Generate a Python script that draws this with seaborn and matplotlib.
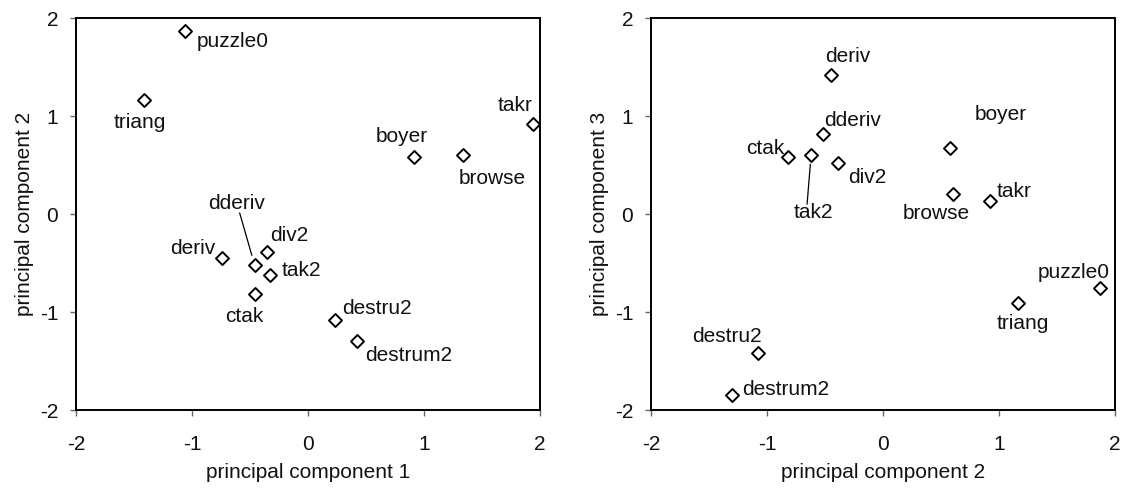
import matplotlib
matplotlib.use("Agg")
import matplotlib.pyplot as plt
import seaborn as sns
import pandas as pd

# ---- data ----
programs = ["puzzle0", "triang", "takr", "boyer", "browse", "deriv",
            "dderiv", "div2", "tak2", "ctak", "destru2", "destrum2"]
pc1 = [-1.06, -1.41, 1.94, 0.91, 1.34, -0.74, -0.46, -0.35, -0.33, -0.46, 0.23, 0.42]
pc2 = [1.87, 1.16, 0.92, 0.58, 0.60, -0.45, -0.52, -0.39, -0.62, -0.82, -1.08, -1.30]
pc3 = [-0.75, -0.91, 0.13, 0.67, 0.20, 1.42, 0.82, 0.52, 0.60, 0.58, -1.42, -1.85]
tick_values = [-2, -1, 0, 1, 2]
x_label_left = "principal component 1"
y_label_left = "principal component 2"
x_label_right = "principal component 2"
y_label_right = "principal component 3"

df = pd.DataFrame({"program": programs, "pc1": pc1, "pc2": pc2, "pc3": pc3})

# ---- layout (label offsets in pixels relative to the point) ----
left_offsets = {
    "puzzle0": (48, -11), "triang": (-5, -22), "takr": (-18, 18),
    "boyer": (-12, 21), "browse": (29, -23), "dderiv": (-18, 61),
    "div2": (22, 17), "deriv": (-29, 10), "tak2": (32, 4),
    "ctak": (-10, -22), "destru2": (42, 11), "destrum2": (52, -14),
}
right_offsets = {
    "deriv": (17, 18), "dderiv": (30, 13), "ctak": (-23, 9),
    "div2": (29, -14), "tak2": (2, -57), "boyer": (50, 34),
    "takr": (24, 10), "browse": (-16, -19), "puzzle0": (-26, 15),
    "triang": (5, -20), "destru2": (-31, 17), "destrum2": (53, 6),
}
# leader lines: (program, far-end offset px, gap near point px)
left_leaders = [("dderiv", (-15, 52), 10)]
right_leaders = [("tak2", (-4, -49), 9)]

FS = 15

sns.set_theme(style="white")
plt.rcParams["font.family"] = ["Liberation Sans", "DejaVu Sans"]

fig = plt.figure(figsize=(11.24, 4.93), dpi=100)
W, H = 1124, 493
ax1 = fig.add_axes([76 / W, 1 - 410 / H, (540 - 76) / W, (410 - 18) / H])
ax2 = fig.add_axes([651 / W, 1 - 410 / H, (1115 - 651) / W, (410 - 18) / H])


def draw(ax, xcol, ycol, offsets, leaders, xlabel, ylabel):
    sns.scatterplot(data=df, x=xcol, y=ycol, ax=ax, marker="D", s=44,
                    facecolor="white", edgecolor="black", linewidth=1.4,
                    zorder=3, legend=False)
    for _, r in df.iterrows():
        dx, dy = offsets[r["program"]]
        ax.annotate(r["program"], xy=(r[xcol], r[ycol]), xytext=(dx, dy),
                    textcoords="offset pixels", ha="center", va="center",
                    fontsize=FS, color="#111111")
    for name, (fx, fy), gap in leaders:
        r = df[df["program"] == name].iloc[0]
        ax.annotate("", xy=(r[xcol], r[ycol]), xytext=(fx, fy),
                    textcoords="offset pixels",
                    arrowprops=dict(arrowstyle="-", color="black", lw=0.9,
                                    shrinkA=0, shrinkB=gap * 0.72))
    ax.set_xlim(-2, 2)
    ax.set_ylim(-2, 2)
    ax.set_xticks(tick_values)
    ax.set_yticks(tick_values)
    ax.set_xticklabels([str(t) for t in tick_values])
    ax.set_yticklabels([str(t) for t in tick_values])
    ax.tick_params(axis="both", which="major", direction="out", length=4.3,
                   width=1, color="#666666", labelsize=FS,
                   bottom=True, left=True, labelcolor="#111111")
    ax.tick_params(axis="x", pad=14)
    ax.tick_params(axis="y", pad=8.5)
    for s in ax.spines.values():
        s.set_visible(True)
        s.set_color("black")
        s.set_linewidth(1.4)
    ax.set_xlabel(xlabel, fontsize=FS, labelpad=6.5, color="#111111")
    ax.set_ylabel(ylabel, fontsize=FS, labelpad=4, color="#111111")
    ax.grid(False)


draw(ax1, "pc1", "pc2", left_offsets, left_leaders, x_label_left, y_label_left)
draw(ax2, "pc2", "pc3", right_offsets, right_leaders, x_label_right, y_label_right)

fig.savefig("out.png", dpi=100, facecolor="white")
